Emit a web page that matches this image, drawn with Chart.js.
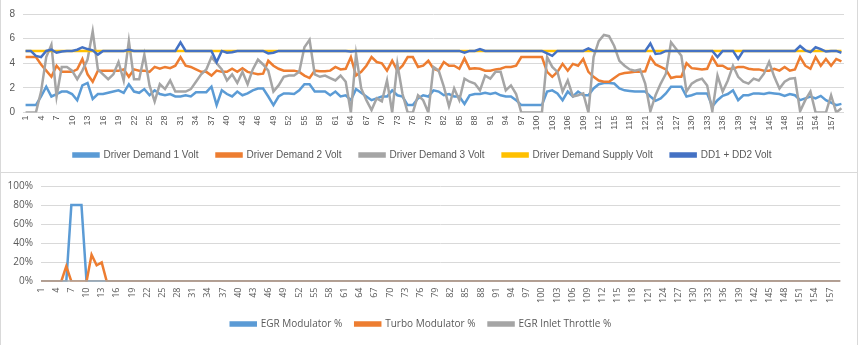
<!DOCTYPE html>
<html>
<head>
<meta charset="utf-8">
<script src="https://cdn.jsdelivr.net/npm/chart.js@4/dist/chart.umd.min.js"></script>
<style>
  html, body { margin: 0; padding: 0; background: #fff; }
  body { width: 859px; height: 345px; position: relative; overflow: hidden; }
  .box { position: absolute; left: 0; box-sizing: border-box; border: 1px solid #d9d9d9; }
  #topBox { top: -1px; width: 858px; height: 174px; }
  #botBox { top: 172px; width: 858px; height: 175px; border-top: none; }
  canvas { display: block; }
</style>
</head>
<body>
<div class="box" id="topBox"><canvas id="voltChart" width="856" height="172"></canvas></div>
<div class="box" id="botBox"><canvas id="pctChart" width="856" height="173"></canvas></div>
<script>
// sample numbers 1..159
const samples = Array.from({ length: 159 }, (_, i) => String(i + 1));

// Top chart (Volt)
const dd1Volt = [
  0.6,0.6,0.6,1.3,2.1,1.3,1.5,1.7,1.7,1.5, 1.0,2.2,2.4,1.1,1.5,1.5,1.6,1.7,1.8,1.6,
  2.3,1.7,1.6,1.9,1.4,1.8,1.5,1.4,1.5,1.3, 1.3,1.4,1.3,1.65,1.65,1.65,2.1,0.6,1.8,1.5,
  1.3,1.7,1.4,1.55,1.8,1.95,1.95,1.3,0.6,1.3, 1.55,1.55,1.5,1.8,2.3,2.3,1.7,1.7,1.7,1.4,
  1.7,1.3,1.4,1.0,1.9,1.6,1.3,1.0,1.15,1.3, 1.3,1.8,1.4,1.3,0.6,0.6,1.15,1.4,1.3,1.8,
  1.7,1.4,1.5,1.3,1.3,0.7,1.4,1.5,1.5,1.6, 1.5,1.6,1.4,1.3,1.3,1.0,0.6,0.6,0.6,0.6,
  0.6,1.7,1.8,1.55,1.0,1.7,1.3,1.7,1.4,1.4, 1.95,2.3,2.4,2.4,2.35,1.95,1.8,1.75,1.7,1.7,
  1.7,1.3,0.95,1.15,1.55,2.1,2.1,2.1,1.3,1.4, 1.55,1.55,1.55,0.5,1.0,1.35,1.5,1.8,1.0,1.4,
  1.4,1.55,1.55,1.5,1.6,1.55,1.5,1.35,1.5,1.4, 1.0,1.15,1.3,1.15,1.35,1.0,0.8,0.6,0.7
];
const dd2Volt = [
  4.5,4.5,4.5,3.9,3.4,2.9,3.8,3.3,3.3,3.3, 3.5,4.35,3.1,2.5,3.4,3.4,3.4,3.4,3.4,3.5,
  2.9,3.5,3.4,3.4,3.3,3.7,3.55,3.7,3.6,3.8, 4.5,3.8,3.7,3.5,3.3,3.3,3.0,3.4,3.3,3.3,
  3.55,3.3,3.6,3.3,3.2,3.1,3.15,4.2,3.8,3.55, 3.4,3.4,3.4,3.3,3.0,2.8,3.4,3.35,3.35,3.4,
  3.7,3.5,3.55,4.5,3.0,3.3,3.8,4.5,4.1,4.0, 3.4,4.2,3.4,3.8,4.5,4.5,3.7,3.8,4.2,3.55,
  3.4,4.1,3.8,3.8,3.55,4.4,3.55,3.6,3.55,3.4, 3.4,3.5,3.55,3.7,3.7,3.8,4.5,4.5,4.5,4.5,
  4.5,3.3,2.9,3.3,3.95,3.4,3.95,3.8,4.35,3.3, 2.9,2.6,2.5,2.5,2.8,3.1,3.2,3.25,3.3,3.3,
  3.35,4.5,3.9,3.7,3.5,2.8,2.9,2.9,4.0,3.6, 3.55,3.5,3.55,4.5,3.8,3.8,3.55,3.55,3.7,3.7,
  3.55,3.5,3.5,3.4,3.4,3.55,3.4,3.7,3.4,3.5, 4.5,3.8,3.55,4.5,3.8,4.35,3.8,4.35,4.15
];
const dd3Volt = [
  0,0,0,1.7,4.5,5.5,1.3,3.7,3.7,3.4, 2.7,3.4,4.3,6.6,3.5,3.1,2.7,3.1,4.1,2.6,
  5.8,2.7,2.7,4.7,2.2,0.9,2.3,1.9,2.6,1.7, 1.7,1.7,1.9,2.5,3.1,3.5,4.5,4.0,3.5,2.6,
  3.1,2.4,3.3,2.3,3.5,4.3,3.9,3.4,1.7,2.2, 2.9,3.0,3.0,3.3,5.3,5.9,3.1,2.9,3.0,2.8,
  2.6,3.0,2.5,0,4.75,1.95,1.0,0.2,1.15,0.9, 2.6,0,3.95,1.5,0,0,1.4,1.0,0,3.7,
  3.4,2.1,0.5,1.95,1.0,2.75,2.5,2.35,1.8,3.0, 2.75,3.3,3.3,1.8,2.2,1.5,0,0,0,0,
  0,4.5,3.7,3.3,1.7,2.6,1.3,1.4,1.55,0, 4.5,5.8,6.3,6.2,5.4,4.2,3.8,3.5,3.4,3.5,
  2.35,0.1,1.4,2.35,3.15,5.7,5.15,4.6,1.7,2.35, 2.6,2.75,2.2,0.1,3.0,1.7,2.6,3.8,2.9,2.5,
  2.35,2.75,2.6,3.15,4.1,2.9,1.95,2.5,2.75,2.8, 0.1,1.0,1.7,0,0,0,1.4,0,0.35
];
const supplyVolt = [
  5,5,5,5,5,5,5,5,5,5, 5,5,5,5,5,5,5,5,5,5, 5,5,5,5,5,5,5,5,5,5, 5,5,5,5,5,5,5,5,5,5,
  5,5,5,5,5,5,5,5,5,5, 5,5,5,5,5,5,5,5,5,5, 5,5,5,5,5,5,5,5,5,5, 5,5,5,5,5,5,5,5,5,5,
  5,5,5,5,5,5,5,5,5,5, 5,5,5,5,5,5,5,5,5,5, 5,5,5,5,5,5,5,5,5,5, 5,5,5,5,5,5,5,5,5,5,
  5,5,5,5,5,5,5,5,5,5, 5,5,5,5,5,5,5,5,5,5, 5,5,5,5,5,5,5,5,5,5, 5,5,5,5,5,5,5,5,5
];
const sumVolt = [
  5,5,4.6,4.5,5,5.1,4.85,4.95,5,5, 5.1,5.3,5.15,5.05,4.7,5,5,5,5,5,
  5.1,5,5,5,5,5,5,5,5,5, 5.7,5,5,5,5,5,5,4.1,5,4.85, 4.9,5,5,5,5,5,5,4.8,4.85,5,
  5,5,5,5,5,5,5,5,5,5, 5,5,5,4.95,5,5,5,5,5,5, 5,5,5,5,5,5,5,5,5,5,
  5,5,5,5,5,4.85,5,5,5.15,5, 5,5,5,5,5,5,5,5,5,5, 5,4.8,4.6,5,5,5,5,5,5,5.2,
  5,5,5,5,5,5,5,5,5,5, 5,5.6,4.75,4.8,5,5,5,5,5,5, 5,5,5,5,4.5,5,5,5,4.35,5,
  5,5,5,5,5,5,5,5,5,5, 5.4,5.05,4.9,5.3,5.15,4.95,5,5,4.85
];
const voltTicks = [0, 2, 4, 6, 8];

// Bottom chart (%)
const egrModPct = [0,0,0,0,0,0,80,80,80,0].concat(new Array(149).fill(0));
const turboModPct = [0,0,0,0,0,16,0,0,0,0,28,17,20,0].concat(new Array(145).fill(0));
const egrThrottlePct = new Array(159).fill(0);

const gridColor = '#d9d9d9';
const textColor = '#595959';
const fontFamily = "'Liberation Sans', sans-serif";

function every3rd(value, index) {
    return index % 3 === 0 ? this.getLabelForValue(value) : '';
}

function lineSet(label, data, color, order) {
    return {
        label: label,
        data: data,
        borderColor: color,
        backgroundColor: color,
        borderWidth: 2.5,
        pointRadius: 0,
        tension: 0,
        order: order
    };
}

Chart.defaults.font.family = fontFamily;
Chart.defaults.color = textColor;
Chart.defaults.animation = false;

// Volt chart
new Chart(document.getElementById('voltChart'), {
    type: 'line',
    data: {
        labels: samples,
        datasets: [
            lineSet('Driver Demand 1 Volt', dd1Volt, '#5b9bd5', 4),
            lineSet('Driver Demand 2 Volt', dd2Volt, '#ed7d31', 3),
            lineSet('Driver Demand 3 Volt', dd3Volt, '#a5a5a5', 2),
            lineSet('Driver Demand Supply Volt', supplyVolt, '#ffc000', 1),
            lineSet('DD1 + DD2 Volt', sumVolt, '#4472c4', 0)
        ]
    },
    options: {
        responsive: false,
        layout: { padding: { left: 0, right: 13, top: 8, bottom: 2 } },
        plugins: {
            legend: {
                position: 'bottom',
                labels: {
                    boxWidth: 25,
                    boxHeight: 3,
                    padding: 18,
                    font: { size: 10 },
                    color: textColor,
                    sort: (a, b) => a.datasetIndex - b.datasetIndex
                }
            },
            tooltip: { enabled: false }
        },
        scales: {
            x: {
                offset: true,
                grid: { display: false, drawTicks: false },
                border: { display: false },
                ticks: {
                    autoSkip: false,
                    minRotation: 90,
                    maxRotation: 90,
                    padding: 3,
                    font: { size: 9 },
                    callback: every3rd
                },
                afterFit: (scale) => { scale.height = 19.5; }
            },
            y: {
                min: 0,
                max: 8,
                afterBuildTicks: (scale) => { scale.ticks = voltTicks.map(v => ({ value: v })); },
                grid: { color: gridColor, drawTicks: false },
                border: { display: false },
                ticks: { padding: 8, font: { size: 10 } },
                afterFit: (scale) => { scale.width = 22; }
            }
        }
    }
});

// Percent chart
new Chart(document.getElementById('pctChart'), {
    type: 'line',
    data: {
        labels: samples,
        datasets: [
            lineSet('EGR Modulator %', egrModPct, '#5b9bd5', 2),
            lineSet('Turbo Modulator %', turboModPct, '#ed7d31', 1),
            lineSet('EGR Inlet Throttle %', egrThrottlePct, '#a5a5a5', 0)
        ]
    },
    options: {
        responsive: false,
        layout: { padding: { left: 0, right: 16, top: 8, bottom: 6 } },
        plugins: {
            legend: {
                position: 'bottom',
                labels: {
                    boxWidth: 25,
                    boxHeight: 3,
                    padding: 13,
                    font: { size: 10, family: "'Open Sans', sans-serif" },
                    color: textColor,
                    sort: (a, b) => a.datasetIndex - b.datasetIndex
                }
            },
            tooltip: { enabled: false }
        },
        scales: {
            x: {
                offset: false,
                grid: { display: false, drawTicks: false },
                border: { display: false },
                ticks: {
                    autoSkip: false,
                    minRotation: 90,
                    maxRotation: 90,
                    padding: 6,
                    font: { size: 9, family: "'Open Sans', sans-serif" },
                    callback: every3rd
                },
                afterFit: (scale) => { scale.height = 24.5; }
            },
            y: {
                min: 0,
                max: 100,
                grid: { color: gridColor, drawTicks: false },
                border: { display: false },
                ticks: {
                    stepSize: 20,
                    padding: 8,
                    font: { size: 10, family: "'Open Sans', sans-serif" },
                    callback: (v) => v + '%'
                },
                afterFit: (scale) => { scale.width = 40; }
            }
        }
    }
});
</script>
</body>
</html>
